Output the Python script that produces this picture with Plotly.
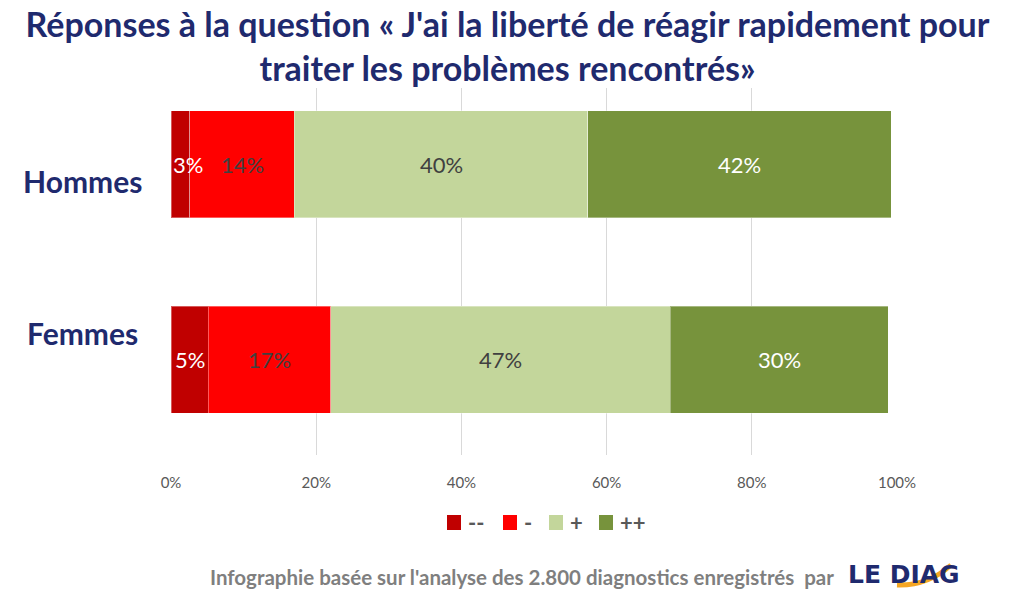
import plotly.graph_objects as go

categories = ["Hommes", "Femmes"]
series_names = ["--", "-", "+", "++"]
hommes = [2.6, 14.4, 40.4, 41.8]
femmes = [5.1, 16.9, 46.8, 30.0]
colors = ["#C00000", "#FF0000", "#C3D69B", "#77933C"]
label_colors = ["#FFFFFF", "#404040", "#404040", "#FFFFFF"]
x_ticks = [0, 20, 40, 60, 80, 100]
x_tick_text = ["0%", "20%", "40%", "60%", "80%", "100%"]

values = {"Hommes": hommes, "Femmes": femmes}

NAVY = "#1F2A6E"
GRAY = "#595959"

# plot area in pixels
L, R, T, B = 171, 897, 88, 455
W_PLOT, H_PLOT = R - L, B - T


def px_x(px):
    return (px - L) / W_PLOT


def px_y(py):
    return (B - py) / H_PLOT


fig = go.Figure()
for i, name in enumerate(series_names):
    fig.add_trace(go.Bar(
        y=categories,
        x=[values[c][i] for c in categories],
        name=name,
        orientation="h",
        marker=dict(color=colors[i], line=dict(color="rgba(255,255,255,0.35)", width=1)),
        width=0.546,
        hoverinfo="x+name",
        showlegend=False,
    ))

annotations = []
label_pix_y = {"Hommes": 181, "Femmes": 333}
min_label_center = 2.3  # keep labels from spilling left of the axis (like Excel)
for ci, c in enumerate(categories):
    cum = 0
    for i, v in enumerate(values[c]):
        annotations.append(dict(
            x=max(cum + v / 2, min_label_center), y=c, xref="x", yref="y",
            text=f"{int(v + 0.5)}%", showarrow=False,
            font=dict(family="Lato", size=22, color=label_colors[i]),
        ))
        cum += v
    annotations.append(dict(
        x=px_x(82), y=px_y(label_pix_y[c]), xref="paper", yref="paper",
        text=f"<b>{c}</b>", showarrow=False, xanchor="center", yanchor="middle",
        font=dict(family="Lato", size=30, color=NAVY),
    ))

# manual legend
shapes = []
legend_marker_x = [447, 503, 549, 599]
for i, name in enumerate(series_names):
    x0 = legend_marker_x[i]
    shapes.append(dict(
        type="rect", xref="paper", yref="paper",
        x0=px_x(x0), x1=px_x(x0 + 14), y0=px_y(530), y1=px_y(515),
        fillcolor=colors[i], line=dict(width=0),
    ))
    annotations.append(dict(
        x=px_x(x0 + 19), y=px_y(522), xref="paper", yref="paper",
        text=f"<b>{name}</b>", showarrow=False, xanchor="left", yanchor="middle",
        font=dict(family="Lato", size=22, color=GRAY),
    ))

# footer
annotations.append(dict(
    x=px_x(836), y=px_y(577), xref="paper", yref="paper",
    text="<b>Infographie basée sur l'analyse des 2.800 diagnostics enregistrés  par</b>",
    showarrow=False, xanchor="right", yanchor="middle",
    font=dict(family="Lato", size=20.5, color="#7F7F7F"),
))
annotations.append(dict(
    x=px_x(846), y=px_y(574), xref="paper", yref="paper",
    text="<b>LE DIAG</b>", showarrow=False, xanchor="left", yanchor="middle",
    font=dict(family="DejaVu Sans", size=25, color=NAVY),
))
shapes.append(dict(
    type="path", xref="paper", yref="paper",
    path=f"M {px_x(897)} {px_y(585)} Q {px_x(928)} {px_y(586)} {px_x(951)} {px_y(565)}",
    line=dict(color="#F5A623", width=5),
))

fig.update_layout(
    width=1015, height=603,
    barmode="stack",
    paper_bgcolor="white", plot_bgcolor="white",
    margin=dict(l=L, r=1015 - R, t=T, b=603 - B),
    title=dict(
        text="<b>Réponses à la question « J'ai la liberté de réagir rapidement pour<br>traiter les problèmes rencontrés»</b>",
        x=0.5, xref="container", y=1 - 37 / 603, yref="container", yanchor="top", xanchor="center",
        font=dict(family="Lato", size=34, color=NAVY),
    ),
    xaxis=dict(
        range=[0, 100], tickmode="array", tickvals=x_ticks, ticktext=x_tick_text,
        showgrid=True, gridcolor="#D9D9D9", gridwidth=1,
        zeroline=False, showline=False,
        ticks="outside", ticklen=14, tickcolor="rgba(0,0,0,0)",
        tickfont=dict(family="Lato", size=15, color=GRAY),
    ),
    yaxis=dict(
        categoryorder="array", categoryarray=categories,
        range=[1.485, -0.388], showticklabels=False,
        showgrid=False, zeroline=False, showline=False,
    ),
    annotations=annotations,
    shapes=shapes,
    showlegend=False,
)

fig.write_html("out.html")
